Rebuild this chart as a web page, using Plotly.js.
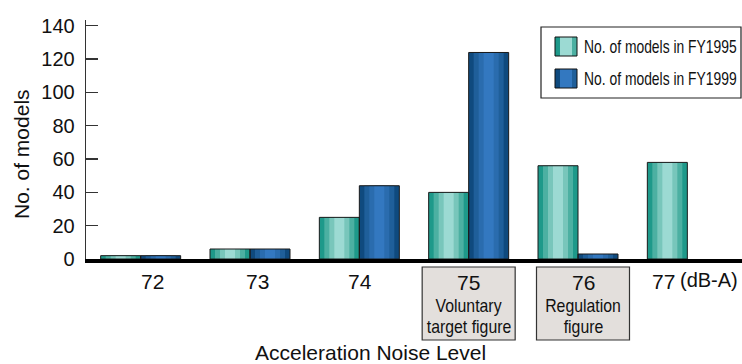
<!DOCTYPE html>
<html>
<head>
<meta charset="utf-8">
<script src="https://cdn.plot.ly/plotly-3.0.1.min.js"></script>
<style>html,body{margin:0;padding:0;background:#fff;}#chart{width:742px;height:364px;}</style>
</head>
<body>
<div id="chart"></div>
<script>
// ---- data ----
const categories = ['72', '73', '74', '75', '76', '77'];
const fy1995 = [2, 6, 25, 40, 56, 58];
const fy1999 = [2, 6, 44, 124, 3, null];
const yTickVals = [0, 20, 40, 60, 80, 100, 120, 140];
const seriesNames = ['No. of models in FY1995', 'No. of models in FY1999'];
const catLabels = ['72', '73', '74', '75', '76', '77'];
const catNotes = {'75': ['Voluntary', 'target figure'], '76': ['Regulation', 'figure']};
const unitLabel = '(dB-A)';
const xTitle = 'Acceleration Noise Level';
const yTitle = 'No. of models';

// ---- layout geometry ----
const W = 742, H = 364;
const M = {l: 86, r: 0, t: 20, b: 105};
const PW = W - M.l - M.r, PH = H - M.t - M.b;
const unit = PW / categories.length;       // px per category
const px2w = p => p / unit;
const pxX = p => (p - M.l) / PW;            // pixel -> paper x
const pxY = p => (H - M.b - p) / PH;        // pixel -> paper y
const catPx = i => M.l + (i + 0.5) * unit;  // category centre in px

const FONT = 'Liberation Sans, Arial, sans-serif';

const tealStripes = ['#1e998a', '#4cb0a2', '#78c6bb', '#9cdad3'];
const blueStripes = ['#0f4a7e', '#1f5f9a', '#2a6cae', '#3378c0'];
const stripeW = [40, 30, 20, 10];
const barPx = 40;

function layers(vals, colors, centerPx) {
  return stripeW.map((w, i) => ({
    type: 'bar', x: categories, y: vals,
    width: px2w(w), offset: px2w(centerPx - w / 2),
    marker: {color: colors[i], line: {width: 0}},
    hoverinfo: 'skip', showlegend: false
  }));
}
function outline(vals, centerPx, name) {
  return {
    type: 'bar', x: categories, y: vals, name: name,
    width: px2w(barPx), offset: px2w(centerPx - barPx / 2),
    marker: {color: 'rgba(0,0,0,0)', line: {width: 1, color: '#1a1a1a'}},
    hoverinfo: 'skip', showlegend: false
  };
}

const data = [
  ...layers(fy1995, tealStripes, -barPx / 2),
  ...layers(fy1999, blueStripes, barPx / 2),
  outline(fy1995, -barPx / 2, seriesNames[0]),
  outline(fy1999, barPx / 2, seriesNames[1])
];

// ---- annotations / shapes ----
const annotations = [];
const shapes = [];
const condensed = [];   // [annotation index, origin, scaleX]
const labelShift = {'72': 12, '73': 7, '74': 1, '75': 0, '76': 5, '77': -24};
const noteY = [305.5, 326.5];
catLabels.forEach((c, i) => {
  const cx = catPx(i) + labelShift[c];
  if (catNotes[c]) {
    shapes.push({type: 'rect', xref: 'paper', yref: 'paper',
      x0: pxX(cx - 46.5), x1: pxX(cx + 46.5), y0: pxY(340), y1: pxY(267),
      line: {color: '#333', width: 1.2}, fillcolor: '#e3dfdc'});
    annotations.push({
      xref: 'paper', yref: 'paper', x: pxX(cx), y: pxY(282), yanchor: 'middle', xanchor: 'center',
      text: c, font: {family: FONT, size: 21, color: '#111'}, showarrow: false, borderpad: 0
    });
    catNotes[c].forEach((line, k) => {
      condensed.push([annotations.length, 'center', 0.88]);
      annotations.push({
        xref: 'paper', yref: 'paper', x: pxX(cx), y: pxY(noteY[k]), yanchor: 'middle', xanchor: 'center',
        text: line, font: {family: FONT, size: 18, color: '#111'},
        showarrow: false, borderpad: 0
      });
    });
  } else {
    annotations.push({
      xref: 'paper', yref: 'paper', x: pxX(cx), y: pxY(281), yanchor: 'middle', xanchor: 'center',
      text: c, font: {family: FONT, size: 21, color: '#111'}, showarrow: false
    });
  }
});
annotations.push({
  xref: 'paper', yref: 'paper', x: pxX(catPx(5) + 22), y: pxY(280), yanchor: 'middle', xanchor: 'center',
  text: unitLabel, font: {family: FONT, size: 20, color: '#111'}, showarrow: false
});
annotations.push({
  xref: 'paper', yref: 'paper', x: pxX(370), y: pxY(352), xanchor: 'center', yanchor: 'middle',
  text: xTitle, font: {family: FONT, size: 21, color: '#111'}, showarrow: false
});
annotations.push({
  xref: 'paper', yref: 'paper', x: pxX(21), y: pxY(154), xanchor: 'center', yanchor: 'middle',
  text: yTitle, textangle: -90, font: {family: FONT, size: 21, color: '#111'}, showarrow: false
});

// custom legend
shapes.push({type: 'rect', xref: 'paper', yref: 'paper', x0: pxX(541), x1: pxX(741), y0: pxY(98), y1: pxY(27),
  line: {color: '#222', width: 1.2}, fillcolor: '#fff', layer: 'above'});
const legRows = [{top: 37, colors: [tealStripes[0], tealStripes[3], tealStripes[1]]},
                 {top: 69, colors: [blueStripes[0], blueStripes[3], blueStripes[1]]}];
legRows.forEach((r, i) => {
  const segs = [[555, 560], [560, 572], [572, 577]];
  segs.forEach((s, j) => {
    shapes.push({type: 'rect', xref: 'paper', yref: 'paper', x0: pxX(s[0]), x1: pxX(s[1]),
      y0: pxY(r.top + 19), y1: pxY(r.top), line: {width: 0}, fillcolor: r.colors[j], layer: 'above'});
  });
  shapes.push({type: 'rect', xref: 'paper', yref: 'paper', x0: pxX(555), x1: pxX(577),
    y0: pxY(r.top + 19), y1: pxY(r.top), line: {width: 1, color: '#111'}, fillcolor: 'rgba(0,0,0,0)', layer: 'above'});
  condensed.push([annotations.length, 'left', 0.73]);
  annotations.push({xref: 'paper', yref: 'paper', x: pxX(582), y: pxY(r.top + 9.5),
    xanchor: 'left', yanchor: 'middle', text: seriesNames[i],
    font: {family: FONT, size: 19, color: '#111'}, showarrow: false});
});

const layout = {
  width: W, height: H,
  margin: M,
  paper_bgcolor: '#fff', plot_bgcolor: '#fff',
  barmode: 'overlay',
  showlegend: false,
  xaxis: {
    type: 'category', range: [-0.5, categories.length - 0.5],
    showline: true, linecolor: '#000', linewidth: 4,
    showticklabels: false, ticks: '', showgrid: false, zeroline: false, fixedrange: true
  },
  yaxis: {
    range: [0, 143.5], tickvals: yTickVals,
    ticks: 'inside', ticklen: 12, tickwidth: 1.3, tickcolor: '#333',
    showline: true, linecolor: '#333', linewidth: 1.3,
    showgrid: false, zeroline: false, fixedrange: true,
    tickfont: {family: FONT, size: 20, color: '#111'},
    ticklabelstandoff: 6
  },
  annotations: annotations,
  shapes: shapes
};

function condense() {
  condensed.forEach(([idx, origin, s]) => {
    const t = document.querySelector('#chart .annotation[data-index="' + idx + '"] text');
    if (t) {
      t.style.transformBox = 'fill-box';
      t.style.transformOrigin = origin + ' center';
      t.style.transform = 'scaleX(' + s + ')';
    }
  });
}
function draw() {
  Plotly.newPlot('chart', data, layout, {staticPlot: true, displayModeBar: false}).then(condense);
}
if (document.fonts && document.fonts.load) {
  document.fonts.load('20px "Liberation Sans"').then(draw, draw);
} else {
  draw();
}
</script>
</body>
</html>
